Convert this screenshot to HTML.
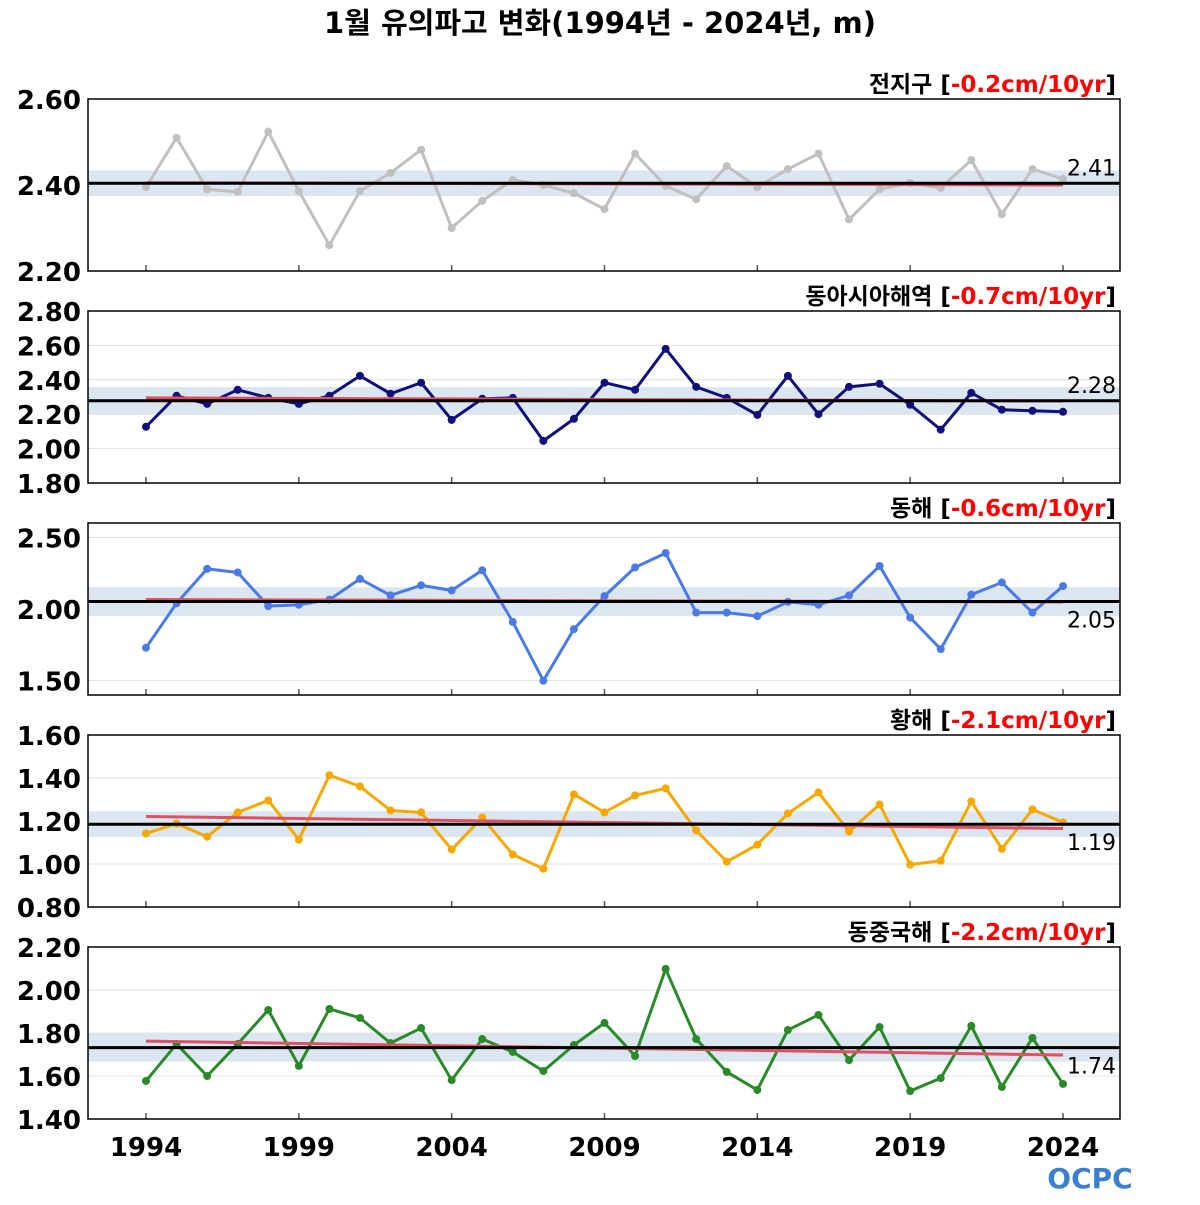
<!DOCTYPE html>
<html><head><meta charset="utf-8"><style>
body{margin:0;background:#fff;}
svg text{font-family:"DejaVu Sans","Liberation Sans","Noto Sans CJK KR",sans-serif;}
</style></head><body>
<svg id="c" width="1200" height="1200" xmlns="http://www.w3.org/2000/svg">
<text x="600" y="33" text-anchor="middle" font-size="29" font-weight="bold">1월 유의파고 변화(1994년 - 2024년, m)</text>
<text x="1090" y="1188" text-anchor="middle" font-size="28" font-weight="bold" fill="#3a7fd0">OCPC</text>
</svg>
<script>
const years = Array.from({length:31},(_,i)=>1994+i);
const panelNames = ["전지구","동아시아해역","동해","황해","동중국해"];
const trendLabels = ["-0.2cm/10yr","-0.7cm/10yr","-0.6cm/10yr","-2.1cm/10yr","-2.2cm/10yr"];
const meanValues = [2.404,2.278,2.052,1.185,1.732];
const meanLabels = ["2.41","2.28","2.05","1.19","1.74"];
const bandHalf = [0.03,0.08,0.1,0.06,0.065];
const colors = ["#c0c0c0","#10107a","#4a7ae8","#f5a800","#2a8a2a"];
const yMin = [2.20,1.80,1.40,0.80,1.40];
const yMax = [2.60,2.80,2.60,1.60,2.20];
const yTicks = [[2.20,2.40,2.60],[1.80,2.00,2.20,2.40,2.60,2.80],[1.50,2.00,2.50],[0.80,1.00,1.20,1.40,1.60],[1.40,1.60,1.80,2.00,2.20]];
const labelAbove = [true,true,false,false,false];
const s0 = [2.395,2.51,2.39,2.384,2.524,2.386,2.26,2.386,2.428,2.482,2.30,2.363,2.412,2.40,2.381,2.344,2.473,2.398,2.367,2.444,2.395,2.437,2.473,2.32,2.39,2.405,2.393,2.458,2.332,2.437,2.414];
const s1 = [2.127,2.307,2.26,2.342,2.295,2.26,2.307,2.423,2.319,2.383,2.167,2.29,2.295,2.045,2.173,2.383,2.342,2.58,2.359,2.295,2.196,2.423,2.2,2.359,2.377,2.255,2.11,2.324,2.226,2.22,2.214];
const s2 = [1.73,2.04,2.28,2.255,2.02,2.03,2.065,2.21,2.095,2.165,2.13,2.27,1.91,1.50,1.86,2.09,2.29,2.39,1.975,1.975,1.95,2.05,2.03,2.095,2.30,1.94,1.72,2.10,2.185,1.975,2.16];
const s3 = [1.142,1.188,1.127,1.24,1.296,1.113,1.413,1.361,1.249,1.24,1.067,1.216,1.044,0.978,1.324,1.24,1.319,1.352,1.156,1.011,1.09,1.235,1.333,1.151,1.277,0.997,1.015,1.291,1.071,1.254,1.193];
const s4 = [1.577,1.749,1.60,1.749,1.907,1.647,1.912,1.87,1.753,1.823,1.581,1.772,1.712,1.623,1.744,1.847,1.693,2.098,1.772,1.619,1.535,1.814,1.884,1.674,1.828,1.53,1.59,1.833,1.549,1.777,1.563];
const series = [s0,s1,s2,s3,s4];
const xTicks = [1994,1999,2004,2009,2014,2019,2024];

const svg = document.getElementById('c');
const NS = "http://www.w3.org/2000/svg";
function mk(tag, at){const e=document.createElementNS(NS,tag);for(const k in at)e.setAttribute(k,at[k]);svg.appendChild(e);return e;}
const L=88,R=1120;
const xs = y => 146 + (y-1994)*(1063-146)/30;

for(let p=0;p<5;p++){
  const top = 99 + p*212, bot = top+172;
  const ys = v => bot - (v-yMin[p])/(yMax[p]-yMin[p])*(bot-top);
  for(const t of yTicks[p]){
    if(t>yMin[p] && t<yMax[p]){
      const g=mk('line',{x1:L,x2:R,y1:ys(t),y2:ys(t),stroke:'#e0e0e0','stroke-width':1});
      
      
    }
    const tl=mk('text',{x:81,y:ys(t)+10,'text-anchor':'end','font-size':26,'font-weight':'bold'});
    tl.textContent=t.toFixed(2);
    
    
  }
  const band=mk('rect',{x:L,width:R-L,y:ys(meanValues[p]+bandHalf[p]),height:ys(meanValues[p]-bandHalf[p])-ys(meanValues[p]+bandHalf[p]),fill:'#dbe6f0'});
  
  
  for(const y of xTicks){
    const tk=mk('line',{x1:xs(y),x2:xs(y),y1:bot-6,y2:bot,stroke:'#555','stroke-width':1.5});
    
    
  }
  const d=series[p];
  const pl=mk('polyline',{points:d.map((v,i)=>xs(years[i])+','+ys(v)).join(' '),fill:'none',stroke:colors[p],'stroke-width':3});
  
  
  d.forEach((v,i)=>{
    const c=mk('circle',{cx:xs(years[i]),cy:ys(v),r:4,fill:colors[p]});
    
    
  });
  const n=d.length, mx=years.reduce((a,b)=>a+b)/n, my=d.reduce((a,b)=>a+b)/n;
  let sxy=0,sxx=0; d.forEach((v,i)=>{sxy+=(years[i]-mx)*(v-my);sxx+=(years[i]-mx)**2;});
  const sl=sxy/sxx, f=y=>my+sl*(y-mx);
  const tr=mk('line',{x1:xs(1994),x2:xs(2024),y1:ys(f(1994)),y2:ys(f(2024)),stroke:'#e05060','stroke-width':3});
  
  
  const ml=mk('line',{x1:L,x2:R,y1:ys(meanValues[p]),y2:ys(meanValues[p]),stroke:'#000','stroke-width':3});
  
  
  const mlab=mk('text',{x:1116,y:labelAbove[p]?ys(meanValues[p])-8:ys(meanValues[p])+26,'text-anchor':'end','font-size':22});
  mlab.textContent=meanLabels[p];
  
  
  const fr=mk('rect',{x:L,y:top,width:R-L,height:bot-top,fill:'none',stroke:'#000','stroke-width':1.5});
  
  
  const tt=mk('text',{x:1116,y:top-7,'text-anchor':'end','font-size':23,'font-weight':'bold'});
  tt.innerHTML=panelNames[p]+' [<tspan fill="#ff0000">'+trendLabels[p]+'</tspan>]';
  
  
}
for(const y of xTicks){
  const t=mk('text',{x:xs(y),y:1156,'text-anchor':'middle','font-size':26,'font-weight':'bold'});
  t.textContent=y;
  
  
}
</script>
</body></html>
